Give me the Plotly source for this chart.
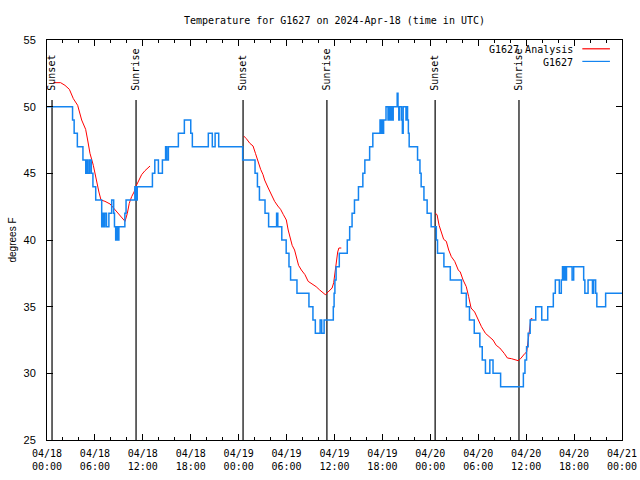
import pandas as pd
import plotly.graph_objects as go

BASE = pd.Timestamp("2024-04-18 00:00")

# Observed station temperature (hours after 2024-04-18 00:00 UTC, degrees F)
obs_hours = [0.0, 3.2, 3.4, 3.8, 4.5, 4.85, 5.0, 5.15, 5.35, 5.55, 5.75, 6.1, 6.85, 6.95, 7.1, 7.25, 7.45,
             7.75, 8.1, 8.35, 8.45, 8.6, 8.75, 8.85, 9.0, 9.75, 9.9, 11.0, 11.15, 11.3, 13.2, 13.5, 13.95,
             14.45, 14.85, 15.0, 15.2, 16.45, 17.2, 18.0, 18.2, 20.2, 20.7, 21.05, 21.5, 24.5,
             26.05, 26.35, 26.6, 27.3, 27.75, 28.75, 28.9, 29.4, 29.95, 30.3, 30.5, 31.3, 32.8, 33.3,
             33.6, 34.2, 34.4, 34.7, 35.85, 35.95, 36.05, 36.2, 36.6, 37.6, 37.9, 38.2, 38.5, 39.0,
             39.55, 39.8, 40.4, 40.8, 41.7, 41.8, 41.95, 42.05, 42.15, 42.45, 42.7, 42.85, 43.0, 43.1,
             43.2, 43.35, 43.85, 43.95, 44.05, 44.15, 44.4, 44.5, 44.6, 44.95, 45.05, 45.15, 45.25,
             45.35, 46.4, 46.7, 46.85, 47.2, 47.6, 48.1, 48.75,
             48.9, 49.7, 50.5, 51.9, 52.5, 52.9, 53.5, 54.2, 54.5, 54.9, 55.45, 55.85, 56.8, 59.65,
             59.85, 60.05, 60.25, 60.5, 61.2, 61.95, 62.7, 63.4, 63.65, 64.15, 64.4, 64.55, 64.7, 64.8,
             64.9, 65.05, 65.75, 65.95, 67.2, 67.35, 67.75, 68.3, 68.45, 68.7, 68.85, 69.95, 72.0]
obs_temps = [50, 49, 48, 47, 46, 45, 46, 45, 46, 45, 44, 43, 41, 42, 41, 42, 41,
             42, 43, 42, 41, 40, 41, 40, 41, 42, 43, 44, 43, 44, 45, 46, 45,
             46, 47, 46, 47, 48, 49, 48, 47, 48, 47, 48, 47, 46,
             45, 44, 43, 42, 41, 42, 41, 40, 39, 38, 37, 36, 35, 34,
             33, 34, 33, 34, 35, 36, 37, 38, 39, 40, 41, 42, 43, 44,
             45, 46, 47, 48, 49, 48, 49, 48, 49, 50, 49, 50, 49, 50,
             49, 50, 51, 50, 49, 50, 49, 48, 50, 49, 50, 49, 48,
             47, 46, 45, 44, 43, 42, 41, 40,
             39, 38, 37, 36, 35, 34, 33, 32, 31, 30, 31, 30, 29, 30,
             31, 32, 33, 34, 35, 34, 35, 36, 37, 36, 37, 38, 37, 38,
             37, 38, 37, 38, 37, 36, 37, 36, 37, 36, 35, 36, 36]

# Analysis curves, one per night
ana1_hours = [0.8, 1.7, 2.25, 2.8, 3.3, 3.84, 4.34, 4.84, 5.09, 5.38, 5.8, 6.0, 6.2, 6.5, 6.76, 7.26,
              7.9, 8.2, 8.7, 9.35, 9.77, 10.06, 10.3, 10.6, 10.9, 11.2, 11.5, 11.85, 12.27, 12.7, 12.9]
ana1_temps = [51.8, 51.8, 51.6, 51.3, 50.6, 50.1, 49.0, 48.3, 47.5, 46.5, 45.6, 45.0, 44.25, 43.6, 43.0, 42.9,
              42.7, 42.5, 42.1, 41.75, 41.4, 42.0, 42.75, 43.25, 43.6, 44.1, 44.5, 44.9, 45.2, 45.45, 45.55]
ana2_hours = [24.63, 24.96, 25.4, 25.8, 26.1, 26.4, 26.75, 27.05, 27.25, 27.7, 28.1, 28.5, 28.9, 29.25,
              29.6, 29.97, 30.2, 30.4, 30.7, 31.0, 31.2, 31.5, 31.85, 32.3, 32.7, 33.2, 33.7, 34.15, 34.55,
              34.85, 35.2, 35.7, 35.9, 36.1, 36.27, 36.4, 36.55, 36.85]
ana2_temps = [47.8, 47.6, 47.25, 47.05, 46.5, 45.9, 45.3, 44.9, 44.5, 43.9, 43.4, 42.9, 42.55, 42.3,
              41.9, 41.5, 40.75, 40.25, 39.6, 39.25, 38.75, 38.1, 37.75, 37.4, 36.9, 36.7, 36.5, 36.25, 36.05,
              35.9, 36.1, 36.4, 36.8, 37.75, 38.5, 39.1, 39.4, 39.4]
ana3_hours = [48.63, 48.84, 49.1, 49.4, 49.67, 50.0, 50.3, 50.63, 51.05, 51.5, 51.75, 52.1, 52.5, 52.8,
              53.1, 53.55, 53.97, 54.4, 54.9, 55.4, 55.85, 56.25, 56.7, 57.25, 57.65, 58.15, 58.65, 59.0,
              59.3, 59.65, 59.85, 60.06, 60.2, 60.35, 60.5, 60.6, 60.77]
ana3_temps = [42.0, 41.9, 41.1, 40.6, 40.05, 39.9, 39.25, 38.75, 38.4, 37.75, 37.6, 37.0, 36.5, 35.75,
              34.9, 34.6, 34.0, 33.5, 33.0, 32.75, 32.5, 32.1, 31.9, 31.5, 31.15, 31.1, 31.0, 30.95,
              31.1, 31.4, 31.5, 31.6, 32.25, 33.25, 33.75, 34.1, 34.1]

# Sun events (hours after 2024-04-18 00:00 UTC)
event_hours = [0.63, 11.15, 24.55, 35.05, 48.6, 59.1]
event_names = ["Sunset", "Sunrise", "Sunset", "Sunrise", "Sunset", "Sunrise"]

title_text = "Temperature for G1627 on 2024-Apr-18 (time in UTC)"
names = ["G1627 Analysis", "G1627"]

MONO = "DejaVu Sans Mono"
SANS = "Liberation Sans"
RED = "#ff0000"
BLUE = "#1484f0"


def to_time(hours):
    return [None if h is None else BASE + pd.Timedelta(hours=h) for h in hours]


ana_hours = ana1_hours + [None] + ana2_hours + [None] + ana3_hours
ana_temps = ana1_temps + [None] + ana2_temps + [None] + ana3_temps

fig = go.Figure()
fig.add_trace(go.Scatter(x=to_time(ana_hours), y=ana_temps, mode="lines", name=names[0],
                         line=dict(color=RED, width=1), connectgaps=False, showlegend=False))
fig.add_trace(go.Scatter(x=to_time(obs_hours), y=obs_temps, mode="lines", name=names[1],
                         line=dict(color=BLUE, width=1.5, shape="hv"), showlegend=False))

for h, nm in zip(event_hours, event_names):
    t = BASE + pd.Timedelta(hours=h)
    fig.add_shape(type="line", x0=t, x1=t, y0=25, y1=50.5, xref="x", yref="y",
                  line=dict(color="black", width=1.2), layer="below")
    fig.add_annotation(x=t, y=51.05, xref="x", yref="y", text=nm, textangle=-90,
                       showarrow=False, xanchor="center", yanchor="bottom",
                       font=dict(family=MONO, size=10, color="black"))

# Legend (text right-aligned, sample line on the right)
leg_y = [0.976, 0.9445]
leg_col = [RED, BLUE]
for nm, yy, col in zip(names, leg_y, leg_col):
    fig.add_annotation(x=0.919, y=yy, xref="paper", yref="paper", text=nm, showarrow=False,
                       xanchor="right", yanchor="middle", font=dict(family=MONO, size=10, color="black"))
    fig.add_shape(type="line", x0=0.931, x1=0.979, y0=yy + 0.002, y1=yy + 0.002,
                  xref="paper", yref="paper", line=dict(color=col, width=1.2))

fig.update_layout(
    width=640, height=480,
    margin=dict(l=47, r=18, t=40, b=40, autoexpand=False),
    paper_bgcolor="white", plot_bgcolor="white",
    title=dict(text=title_text, x=0.5, xref="paper", xanchor="center", y=0.958, yanchor="middle",
               font=dict(family=MONO, size=10, color="black")),
    showlegend=False,
)
fig.update_xaxes(
    type="date", range=[BASE, BASE + pd.Timedelta(hours=72)],
    tick0=BASE, dtick=6 * 3600 * 1000, tickformat="%m/%d<br>%H:%M",
    ticks="inside", ticklen=6, tickcolor="black", tickwidth=1,
    minor=dict(dtick=2 * 3600 * 1000, ticks="inside", ticklen=3, tickcolor="black"),
    showline=True, linecolor="black", linewidth=1, mirror="ticks",
    showgrid=False, zeroline=False, ticklabelstandoff=4, ticklabeloverflow="allow",
    tickfont=dict(family=MONO, size=10, color="black"), automargin=False,
)
fig.update_yaxes(
    range=[25, 55], tick0=25, dtick=5,
    ticks="inside", ticklen=6, tickcolor="black", tickwidth=1,
    showline=True, linecolor="black", linewidth=1, mirror="ticks",
    showgrid=False, zeroline=False, ticklabelstandoff=8,
    tickfont=dict(family=SANS, size=11, color="black"),
    title=dict(text="degrees F", font=dict(family=SANS, size=10, color="black"), standoff=5),
    automargin=False,
)

# remove the default page margin so the 640x480 figure fills the window exactly
fig.write_html("out.html", config={"displayModeBar": False},
               post_script="document.body.style.margin='0';document.body.style.overflow='hidden';")
